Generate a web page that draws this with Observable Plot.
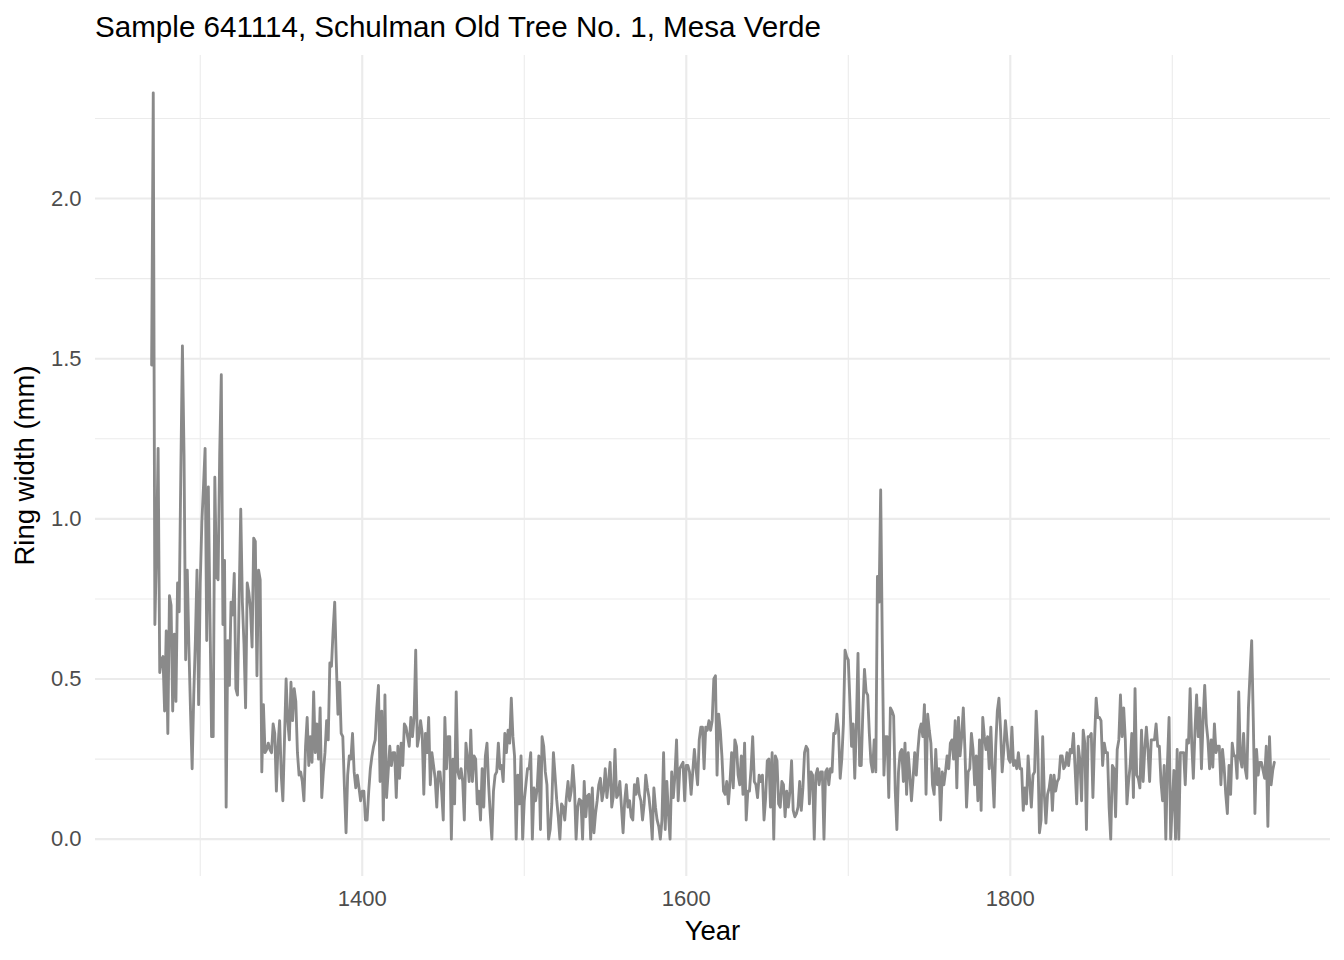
<!DOCTYPE html>
<html>
<head>
<meta charset="utf-8">
<script src="https://cdn.jsdelivr.net/npm/d3@7"></script>
<script src="https://cdn.jsdelivr.net/npm/@observablehq/plot@0.6"></script>
<style>
  html, body { margin: 0; padding: 0; background: #ffffff; }
  #wrap { width: 1344px; font-family: "Liberation Sans", Arial, Helvetica, sans-serif; }
  #title { height: 50px; box-sizing: border-box; padding-top: 10px; padding-left: 95px;
           font-size: 29.6px; line-height: 34px; color: #000; white-space: nowrap; overflow: visible; }
  svg { display: block; }
</style>
</head>
<body>
<div id="wrap">
  <div id="title">Sample 641114, Schulman Old Tree No. 1, Mesa Verde</div>
  <div id="chart"></div>
</div>
<script>
// ---- data ----
const firstYear = 1270;
const ringWidth = [
  1.48, 2.33, 0.67, 0.90, 1.22, 0.52, 0.56, 0.57, 0.40, 0.65,   // 1270
  0.33, 0.76, 0.73, 0.40, 0.64, 0.43, 0.80, 0.71, 1.14, 1.54,   // 1280
  1.20, 0.56, 0.84, 0.60, 0.40, 0.22, 0.45, 0.62, 0.84, 0.42,   // 1290
  0.80, 0.99, 1.10, 1.22, 0.62, 1.10, 0.70, 0.32, 0.32, 1.13,   // 1300
  0.82, 0.81, 1.20, 1.45, 0.67, 0.87, 0.10, 0.62, 0.48, 0.74,   // 1310
  0.70, 0.83, 0.47, 0.45, 0.75, 1.03, 0.74, 0.61, 0.41, 0.80,   // 1320
  0.77, 0.72, 0.60, 0.94, 0.93, 0.51, 0.84, 0.81, 0.21, 0.42,   // 1330
  0.27, 0.28, 0.30, 0.28, 0.27, 0.36, 0.33, 0.15, 0.29, 0.37,   // 1340
  0.20, 0.12, 0.31, 0.50, 0.37, 0.31, 0.49, 0.37, 0.47, 0.43,   // 1350
  0.27, 0.20, 0.21, 0.18, 0.12, 0.29, 0.38, 0.23, 0.32, 0.24,   // 1360
  0.46, 0.27, 0.36, 0.25, 0.41, 0.13, 0.21, 0.27, 0.37, 0.31,   // 1370
  0.55, 0.54, 0.65, 0.74, 0.55, 0.39, 0.49, 0.33, 0.32, 0.16,   // 1380
  0.02, 0.20, 0.26, 0.25, 0.33, 0.21, 0.16, 0.20, 0.16, 0.12,   // 1390
  0.15, 0.15, 0.06, 0.06, 0.15, 0.22, 0.26, 0.29, 0.31, 0.41,   // 1400
  0.48, 0.18, 0.40, 0.06, 0.45, 0.13, 0.21, 0.29, 0.23, 0.27,   // 1410
  0.27, 0.13, 0.29, 0.19, 0.30, 0.23, 0.36, 0.35, 0.32, 0.29,   // 1420
  0.38, 0.32, 0.38, 0.59, 0.29, 0.32, 0.37, 0.33, 0.14, 0.33,   // 1430
  0.27, 0.38, 0.17, 0.27, 0.23, 0.19, 0.10, 0.21, 0.21, 0.15,   // 1440
  0.06, 0.38, 0.22, 0.32, 0.32, 0.00, 0.25, 0.11, 0.46, 0.21,   // 1450
  0.19, 0.22, 0.18, 0.06, 0.30, 0.25, 0.18, 0.34, 0.18, 0.26,   // 1460
  0.25, 0.11, 0.15, 0.06, 0.22, 0.10, 0.26, 0.30, 0.17, 0.08,   // 1470
  0.00, 0.15, 0.20, 0.21, 0.30, 0.22, 0.23, 0.18, 0.33, 0.27,   // 1480
  0.34, 0.30, 0.44, 0.32, 0.26, 0.00, 0.20, 0.11, 0.26, 0.00,   // 1490
  0.12, 0.17, 0.22, 0.22, 0.27, 0.00, 0.16, 0.12, 0.16, 0.26,   // 1500
  0.03, 0.32, 0.29, 0.21, 0.17, 0.00, 0.03, 0.11, 0.27, 0.20,   // 1510
  0.125, 0.07, 0.00, 0.11, 0.10, 0.06, 0.13, 0.18, 0.12, 0.15,  // 1520
  0.23, 0.16, 0.00, 0.10, 0.125, 0.12, 0.00, 0.18, 0.07, 0.135, // 1530
  0.14, 0.00, 0.16, 0.02, 0.08, 0.12, 0.17, 0.19, 0.12, 0.15,   // 1540
  0.22, 0.13, 0.18, 0.24, 0.10, 0.135, 0.28, 0.13, 0.14, 0.18,  // 1550
  0.10, 0.02, 0.12, 0.17, 0.10, 0.12, 0.07, 0.06, 0.17, 0.14,   // 1560
  0.19, 0.14, 0.12, 0.06, 0.11, 0.20, 0.16, 0.13, 0.08, 0.00,   // 1570
  0.16, 0.10, 0.06, 0.04, 0.00, 0.06, 0.27, 0.03, 0.18, 0.08,   // 1580
  0.00, 0.21, 0.13, 0.20, 0.31, 0.12, 0.22, 0.23, 0.24, 0.12,   // 1590
  0.23, 0.23, 0.21, 0.14, 0.21, 0.28, 0.22, 0.17, 0.31, 0.35,   // 1600
  0.35, 0.22, 0.35, 0.34, 0.37, 0.34, 0.37, 0.50, 0.51, 0.20,   // 1610
  0.39, 0.34, 0.26, 0.15, 0.14, 0.18, 0.11, 0.18, 0.27, 0.16,   // 1620
  0.31, 0.29, 0.20, 0.17, 0.26, 0.14, 0.30, 0.06, 0.15, 0.15,   // 1630
  0.22, 0.32, 0.18, 0.17, 0.13, 0.20, 0.18, 0.20, 0.06, 0.13,   // 1640
  0.245, 0.25, 0.10, 0.27, 0.00, 0.26, 0.245, 0.11, 0.10, 0.18, // 1650
  0.17, 0.07, 0.15, 0.10, 0.15, 0.245, 0.09, 0.07, 0.08, 0.10,  // 1660
  0.18, 0.09, 0.16, 0.27, 0.29, 0.28, 0.11, 0.21, 0.20, 0.00,   // 1670
  0.20, 0.22, 0.17, 0.21, 0.21, 0.00, 0.21, 0.22, 0.17, 0.22,   // 1680
  0.21, 0.33, 0.33, 0.39, 0.34, 0.19, 0.25, 0.36, 0.59, 0.57,   // 1690
  0.56, 0.43, 0.29, 0.36, 0.19, 0.36, 0.58, 0.23, 0.23, 0.40,   // 1700
  0.53, 0.46, 0.45, 0.33, 0.24, 0.21, 0.31, 0.21, 0.82, 0.74,   // 1710
  1.09, 0.61, 0.20, 0.32, 0.32, 0.13, 0.41, 0.40, 0.385, 0.15,  // 1720
  0.03, 0.21, 0.27, 0.28, 0.18, 0.30, 0.14, 0.27, 0.20, 0.12,   // 1730
  0.19, 0.27, 0.20, 0.28, 0.34, 0.36, 0.32, 0.42, 0.14, 0.39,   // 1740
  0.34, 0.30, 0.17, 0.14, 0.28, 0.17, 0.22, 0.06, 0.21, 0.17,   // 1750
  0.21, 0.26, 0.22, 0.30, 0.31, 0.25, 0.37, 0.16, 0.38, 0.26,   // 1760
  0.32, 0.41, 0.28, 0.10, 0.21, 0.22, 0.33, 0.28, 0.17, 0.26,   // 1770
  0.12, 0.31, 0.09, 0.38, 0.32, 0.28, 0.32, 0.22, 0.35, 0.21,   // 1780
  0.10, 0.29, 0.40, 0.44, 0.34, 0.21, 0.28, 0.37, 0.31, 0.25,   // 1790
  0.24, 0.35, 0.23, 0.245, 0.22, 0.27, 0.22, 0.22, 0.09, 0.16,  // 1800
  0.11, 0.26, 0.18, 0.10, 0.20, 0.21, 0.40, 0.28, 0.02, 0.06,   // 1810
  0.32, 0.14, 0.05, 0.14, 0.16, 0.20, 0.09, 0.20, 0.15, 0.18,   // 1820
  0.19, 0.26, 0.26, 0.22, 0.23, 0.27, 0.23, 0.28, 0.27, 0.33,   // 1830
  0.22, 0.11, 0.29, 0.245, 0.12, 0.34, 0.30, 0.03, 0.32, 0.32,  // 1840
  0.33, 0.13, 0.31, 0.44, 0.38, 0.38, 0.37, 0.23, 0.30, 0.27,   // 1850
  0.27, 0.10, 0.00, 0.23, 0.22, 0.07, 0.28, 0.31, 0.45, 0.32,   // 1860
  0.41, 0.31, 0.11, 0.18, 0.23, 0.33, 0.13, 0.47, 0.20, 0.19,   // 1870
  0.16, 0.34, 0.18, 0.28, 0.35, 0.28, 0.18, 0.31, 0.31, 0.31,   // 1880
  0.36, 0.29, 0.29, 0.18, 0.12, 0.23, 0.00, 0.235, 0.38, 0.00,  // 1890
  0.11, 0.215, 0.00, 0.28, 0.00, 0.27, 0.27, 0.27, 0.17, 0.31,  // 1900
  0.30, 0.47, 0.30, 0.19, 0.34, 0.45, 0.32, 0.41, 0.22, 0.37,   // 1910
  0.48, 0.36, 0.31, 0.22, 0.31, 0.225, 0.36, 0.27, 0.29, 0.29,  // 1920
  0.17, 0.28, 0.225, 0.14, 0.08, 0.23, 0.14, 0.30, 0.26, 0.26,  // 1930
  0.19, 0.46, 0.25, 0.225, 0.33, 0.22, 0.19, 0.41, 0.52, 0.62,  // 1940
  0.37, 0.08, 0.28, 0.20, 0.24, 0.24, 0.215, 0.19, 0.29, 0.04,  // 1950
  0.32, 0.17, 0.215, 0.24                                       // 1960
];
const xMajorTicks = [1400, 1600, 1800];
const xMinorTicks = [1300, 1500, 1700, 1900];
const yMajorTicks = [0, 0.5, 1, 1.5, 2];
const yMinorTicks = [0.25, 0.75, 1.25, 1.75, 2.25];
const xTitle = "Year";
const yTitle = "Ring width (mm)";

// ---- build table ----
const rows = ringWidth.map((w, i) => ({year: firstYear + i, width: w}));

// ggplot-like 5% expansion
const xExt = d3.extent(rows, d => d.year);
const yExt = [0, d3.max(rows, d => d.width)];
const xPad = (xExt[1] - xExt[0]) * 0.05;
const yPad = (yExt[1] - yExt[0]) * 0.05;

const W = 1344, H = 910;
const mTop = 5, mBottom = 84, mLeft = 95, mRight = 14;
const gridColor = "#ebebeb";

const plot = Plot.plot({
  width: W,
  height: H,
  marginTop: mTop,
  marginBottom: mBottom,
  marginLeft: mLeft,
  marginRight: mRight,
  style: {
    fontFamily: '"Liberation Sans", Arial, Helvetica, sans-serif',
    fontSize: "22px",
    color: "#4d4d4d",
    background: "#ffffff",
    overflow: "visible"
  },
  x: {domain: [xExt[0] - xPad, xExt[1] + xPad]},
  y: {domain: [yExt[0] - yPad, yExt[1] + yPad]},
  marks: [
    Plot.ruleX(xMinorTicks, {stroke: gridColor, strokeWidth: 1.07}),
    Plot.ruleY(yMinorTicks, {stroke: gridColor, strokeWidth: 1.07}),
    Plot.ruleX(xMajorTicks, {stroke: gridColor, strokeWidth: 2.13}),
    Plot.ruleY(yMajorTicks, {stroke: gridColor, strokeWidth: 2.13}),
    Plot.axisX({ticks: xMajorTicks, tickSize: 0, tickPadding: 14, tickFormat: "d", label: null, fontSize: 22}),
    Plot.axisY({ticks: yMajorTicks, tickSize: 0, tickPadding: 14, tickFormat: ".1f", label: null, fontSize: 22}),
    Plot.line(rows, {x: "year", y: "width", stroke: "#8a8a8a", strokeWidth: 2.85, strokeLinejoin: "round"})
  ]
});

const svg = d3.select(plot);
svg.append("text")
  .attr("x", (mLeft + (W - mRight)) / 2)
  .attr("y", 890)
  .attr("text-anchor", "middle")
  .attr("fill", "#000")
  .attr("font-size", "27.5px")
  .text(xTitle);
svg.append("text")
  .attr("transform", `translate(34, ${(mTop + (H - mBottom)) / 2}) rotate(-90)`)
  .attr("text-anchor", "middle")
  .attr("fill", "#000")
  .attr("font-size", "27.5px")
  .text(yTitle);

document.getElementById("chart").appendChild(plot);
</script>
</body>
</html>
